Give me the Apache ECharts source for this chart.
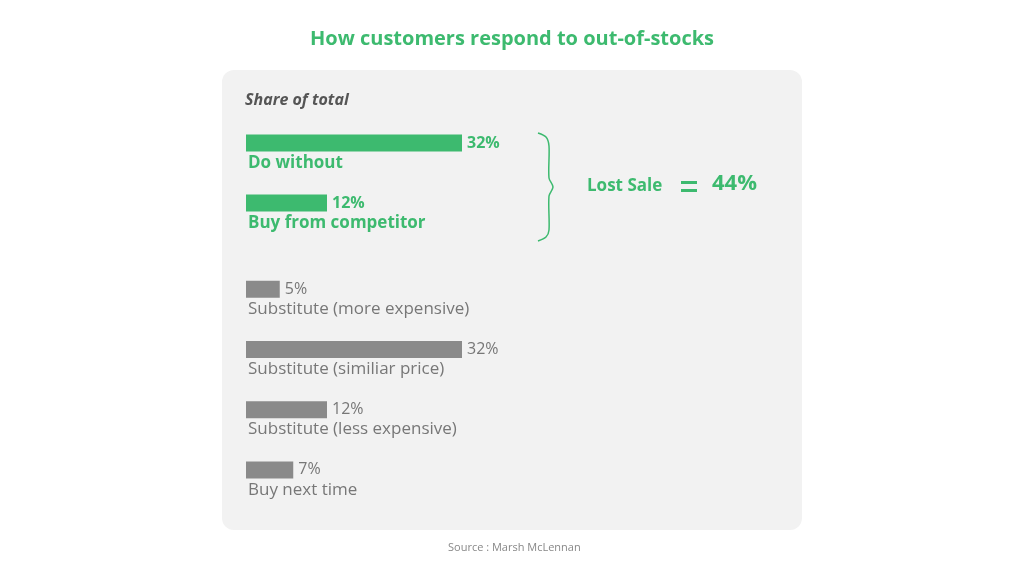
<!DOCTYPE html>
<html>
<head>
<meta charset="utf-8">
<script src="https://cdn.jsdelivr.net/npm/echarts@6/dist/echarts.min.js"></script>
<style>
  html, body { margin: 0; padding: 0; background: #fff; }
  #chart { width: 1024px; height: 576px; }
</style>
</head>
<body>
<div id="chart"></div>
<script>
var lostCategories = ['Do without', 'Buy from competitor'];
var lostValues = [32, 12];
var otherCategories = ['Substitute (more expensive)', 'Substitute (similiar price)', 'Substitute (less expensive)', 'Buy next time'];
var otherValues = [5, 32, 12, 7];
var lostTotal = 44;

var green = '#3dba6f';
var grey = '#8a8a8a';
var font = '"Open Sans", "Noto Sans", sans-serif';

var chart = echarts.init(document.getElementById('chart'));

function barSeries(idx, data, color, bold) {
    return {
        type: 'bar',
        xAxisIndex: idx,
        yAxisIndex: idx,
        data: data,
        barWidth: 17,
        silent: true,
        itemStyle: { color: color },
        label: {
            show: true,
            position: 'right',
            distance: 5,
            formatter: '{c}%',
            color: bold ? green : '#777',
            fontFamily: font,
            fontWeight: bold ? 'bold' : 'normal',
            fontSize: 16
        }
    };
}

function nameSeries(idx, data, names, bold) {
    return {
        type: 'bar',
        xAxisIndex: idx,
        yAxisIndex: idx,
        data: data,
        barWidth: 17,
        barGap: '-100%',
        silent: true,
        itemStyle: { color: 'transparent' },
        label: {
            show: true,
            position: [2, 20],
            formatter: function (p) { return names[p.dataIndex]; },
            color: bold ? green : '#777',
            fontFamily: font,
            fontWeight: bold ? 'bold' : 'normal',
            fontSize: 17
        }
    };
}

chart.setOption({
    animation: false,
    title: {
        text: 'How customers respond to out-of-stocks',
        left: 'center',
        top: 24,
        textStyle: { color: green, fontSize: 20, fontWeight: 'bold', fontFamily: font }
    },
    grid: [
        { left: 246, width: 675, top: 113, height: 120 },
        { left: 246, width: 675, top: 259, height: 241 }
    ],
    xAxis: [
        { gridIndex: 0, type: 'value', min: 0, max: 100, show: false },
        { gridIndex: 1, type: 'value', min: 0, max: 100, show: false }
    ],
    yAxis: [
        { gridIndex: 0, type: 'category', inverse: true, data: lostCategories, show: false },
        { gridIndex: 1, type: 'category', inverse: true, data: otherCategories, show: false }
    ],
    graphic: [
        { type: 'rect', z: -10, shape: { x: 222, y: 70, width: 580, height: 460, r: 12 }, style: { fill: '#f2f2f2' } },
        { type: 'text', x: 245, y: 92, style: { text: 'Share of total', fill: '#555', font: 'italic bold 16px ' + font } },
        { type: 'polyline', shape: { points: [[538, 133], [546, 137], [549, 146], [549, 178], [553, 187], [549, 196], [549, 230], [546, 237], [538, 241]], smooth: 0.3 },
          style: { stroke: green, lineWidth: 1.5, fill: null } },
        { type: 'text', x: 587, y: 178, style: { text: 'Lost Sale', fill: green, font: 'bold 17px ' + font } },
        { type: 'rect', shape: { x: 681, y: 181, width: 16, height: 3 }, style: { fill: green } },
        { type: 'rect', shape: { x: 681, y: 189, width: 16, height: 3 }, style: { fill: green } },
        { type: 'text', x: 712, y: 173, style: { text: lostTotal + '%', fill: green, font: 'bold 22px ' + font } },
        { type: 'text', x: 448, y: 542, style: { text: 'Source : Marsh McLennan', fill: '#888', font: '11px ' + font } }
    ],
    series: [
        barSeries(0, lostValues, green, true),
        nameSeries(0, lostValues, lostCategories, true),
        barSeries(1, otherValues, grey, false),
        nameSeries(1, otherValues, otherCategories, false)
    ]
});
window.onresize = chart.resize;
</script>
</body>
</html>
